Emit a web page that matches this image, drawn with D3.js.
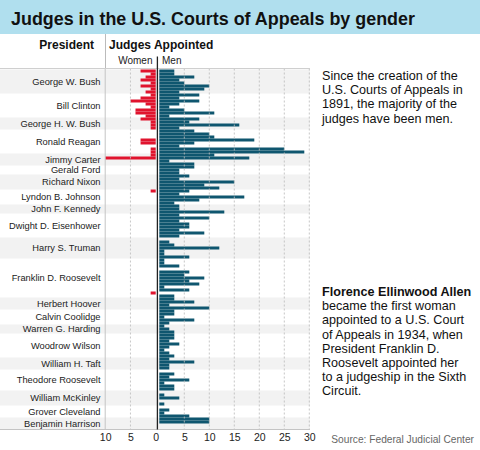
<!DOCTYPE html>
<html><head><meta charset="utf-8">
<script src="https://cdn.jsdelivr.net/npm/d3@7/dist/d3.min.js"></script>
<style>
body{margin:0;background:#fff;}
svg{display:block;font-family:"Liberation Sans",Arial,Helvetica,sans-serif;}
</style>
</head><body>
<svg id="chart" width="480" height="450"></svg>
<script>
// ---- data (rows are years, most recent first) ----
const years = [2008,2007,2006,2005,2004,2003,2002,2001,2000,1999,1998,1997,1996,1995,1994,1993,1992,1991,1990,1989,
1988,1987,1986,1985,1984,1983,1982,1981,1980,1979,1978,1977,1976,1975,1974,1973,1972,1971,1970,1969,
1968,1967,1966,1965,1964,1963,1962,1961,1960,1959,1958,1957,1956,1955,1954,1953,1952,1951,1950,1949,
1948,1947,1946,1945,1944,1943,1942,1941,1940,1939,1938,1937,1936,1935,1934,1933,1932,1931,1930,1929,
1928,1927,1926,1925,1924,1923,1922,1921,1920,1919,1918,1917,1916,1915,1914,1913,1912,1911,1910,1909,
1908,1907,1906,1905,1904,1903,1902,1901,1900,1899,1898,1897,1896,1895,1894,1893,1892,1891,1890,1889];

const men = [3,3,7,4,5,10,9,4, 8,4,8,4,2,5,11,2, 8,6,16,4,
7,10,11,19,7,4,25,29, 11,18,2,7, 7,4,4, 6,4,15,9,12,
6,4,17,8,3, 4,4,13, 4,10,4,6,6,4,9,4,
0,2,3,12,1,1,6, 1,1,4,0,6,5,9,6,8,1,6,0,3,
3,7,2,10, 3,3,1,7,2, 1,2,3, 3,3,2,4,2,1,2,3,
2,7,2,2, 0,3,2,6,1,3,3, 0,1,4,0,1, 0,2,1,6, 10,10,0,0];

const women = [3,1,2,3,1,3,1,2, 1,3,5,2,1,4,4,2, 3,1,1,1,
0,0,0,3,3,0,1,1, 1,10,0,0, 0,0,0, 0,0,0,0,0,
1,0,0,0,0, 0,0,0, 0,0,0,0,0,0,0,0,
0,0,0,0,0,0,0, 0,0,0,0,0,0,0,0,0,0,0,1,0,
0,0,0,0, 0,0,0,0,0, 0,0,0, 0,0,0,0,0,0,0,0,
0,0,0,0, 0,0,0,0,0,0,0, 0,0,0,0,0, 0,0,0,0, 0,0,0,0];

const presidents = ["George W. Bush","Bill Clinton","George H. W. Bush","Ronald Reagan","Jimmy Carter",
"Gerald Ford","Richard Nixon","Lyndon B. Johnson","John F. Kennedy","Dwight D. Eisenhower","Harry S. Truman",
"Franklin D. Roosevelt","Herbert Hoover","Calvin Coolidge","Warren G. Harding","Woodrow Wilson",
"William H. Taft","Theodore Roosevelt","William McKinley","Grover Cleveland","Benjamin Harrison"];
const termFirst = [2001,1993,1989,1981,1977,1974,1969,1964,1961,1953,1946,1933,1929,1924,1921,1913,1909,1902,1897,1893,1889];
const termLast  = [2008,2000,1992,1988,1980,1976,1973,1968,1963,1960,1952,1945,1932,1928,1923,1920,1912,1908,1901,1896,1892];

const womenTicks = [10,5,0];
const menTicks = [5,10,15,20,25,30];

const title = "Judges in the U.S. Courts of Appeals by gender";
const note1 = ["Since the creation of the","U.S. Courts of Appeals in","1891, the majority of the","judges have been men."];
const note2Bold = "Florence Ellinwood Allen";
const note2 = ["became the first woman","appointed to a U.S. Court","of Appeals in 1934, when","President Franklin D.","Roosevelt appointed her","to a judgeship in the Sixth","Circuit."];
const source = "Source: Federal Judicial Center";

// ---- layout ----
const svg = d3.select("#chart");
const plotTop = 69.5, plotBottom = 429.5, plotRight = 310;
const y = d3.scaleBand().domain(years).range([plotTop, plotBottom]).padding(0);
const xw = d3.scaleLinear().domain([0,10]).range([155.7,105.2]);
const xm = d3.scaleLinear().domain([0,30]).range([159.3,309.3]);
const centerX = 157.4;
const lineH = 14.2;

// header
svg.append("rect").attr("x",0).attr("y",0).attr("width",480).attr("height",34).attr("fill","#b0dfee");
svg.append("text").attr("x",11).attr("y",25).attr("font-size",17.9).attr("font-weight","bold").attr("fill","#111").text(title);

// president bands
presidents.forEach((p,i)=>{
  const y0 = y(termLast[i]), y1 = y(termFirst[i]) + y.bandwidth();
  if(i%2===0){
    svg.append("rect").attr("x",0).attr("y",y0).attr("width",plotRight).attr("height",y1-y0).attr("fill","#f2f2f2");
  }
  svg.append("text").attr("x",100.5).attr("y",(y0+y1)/2).attr("dy","0.35em")
    .attr("text-anchor","end").attr("font-size",9.3).attr("fill","#222").text(p);
});

// column headers
svg.append("text").attr("x",94).attr("y",49).attr("text-anchor","end").attr("font-size",12).attr("font-weight","bold").attr("fill","#111").text("President");
svg.append("text").attr("x",109).attr("y",49).attr("font-size",12).attr("font-weight","bold").attr("fill","#111").text("Judges Appointed");
svg.append("text").attr("x",152.5).attr("y",63.5).attr("text-anchor","end").attr("font-size",10).attr("fill","#222").text("Women");
svg.append("text").attr("x",162).attr("y",63.5).attr("font-size",10).attr("fill","#222").text("Men");
svg.append("line").attr("x1",105.5).attr("x2",105.5).attr("y1",34).attr("y2",68).attr("stroke","#bbb");

// bars
svg.append("g").selectAll("rect").data(years.map((yr,i)=>({yr,v:men[i]})).filter(d=>d.v>0)).join("rect")
  .attr("x",xm(0)).attr("y",d=>y(d.yr)).attr("width",d=>xm(d.v)-xm(0)).attr("height",y.bandwidth())
  .attr("fill","#0f566f");
svg.append("g").selectAll("rect").data(years.map((yr,i)=>({yr,v:women[i]})).filter(d=>d.v>0)).join("rect")
  .attr("x",d=>xw(d.v)).attr("y",d=>y(d.yr)).attr("width",d=>xw(0)-xw(d.v)).attr("height",y.bandwidth())
  .attr("fill","#e0142e");

// grid lines
const grid = svg.append("g");
[5].forEach(v=>grid.append("line").attr("x1",xw(v)).attr("x2",xw(v)).attr("y1",68.5).attr("y2",429)
  .attr("stroke","#bdbdbd").attr("stroke-opacity",0.85).attr("stroke-dasharray","2,2"));
menTicks.forEach(v=>grid.append("line").attr("x1",xm(v)).attr("x2",xm(v)).attr("y1",68.5).attr("y2",429)
  .attr("stroke","#bdbdbd").attr("stroke-opacity",0.85).attr("stroke-dasharray","2,2"));
grid.append("line").attr("x1",xw(10)).attr("x2",xw(10)).attr("y1",68).attr("y2",429).attr("stroke","#c4c4c4");
// top & bottom rules
svg.append("line").attr("x1",0).attr("x2",plotRight).attr("y1",68.5).attr("y2",68.5).attr("stroke","#cfcfcf");
svg.append("line").attr("x1",0).attr("x2",plotRight).attr("y1",429.5).attr("y2",429.5).attr("stroke","#c4c4c4");
// centre line
svg.append("line").attr("x1",centerX).attr("x2",centerX).attr("y1",56.5).attr("y2",429.5).attr("stroke","#222").attr("stroke-width",1.3);

// axes labels
const axW = d3.axisBottom(xw).tickValues(womenTicks).tickSize(0).tickPadding(0).tickFormat(d3.format("d"));
const axM = d3.axisBottom(xm).tickValues(menTicks).tickSize(0).tickPadding(0).tickFormat(d3.format("d"));
[axW,axM].forEach(ax=>{
  const g = svg.append("g").attr("transform","translate(0,434)").call(ax);
  g.select(".domain").remove();
  g.selectAll("text").attr("font-size",10.5).attr("fill","#222").attr("font-family",null);
});

// notes
const n1 = svg.append("text").attr("x",322).attr("y",80).attr("font-size",12.6).attr("fill","#111");
note1.forEach((t,i)=>n1.append("tspan").attr("x",322).attr("dy",i?lineH:0).text(t));
svg.append("text").attr("x",322).attr("y",296).attr("font-size",12.6).attr("font-weight","bold").attr("fill","#111").text(note2Bold);
const n2 = svg.append("text").attr("x",322).attr("y",296+lineH).attr("font-size",12.6).attr("fill","#111");
note2.forEach((t,i)=>n2.append("tspan").attr("x",322).attr("dy",i?lineH:0).text(t));

svg.append("text").attr("x",474).attr("y",443).attr("text-anchor","end").attr("font-size",10.2).attr("fill","#666").text(source);
</script>
</body></html>
